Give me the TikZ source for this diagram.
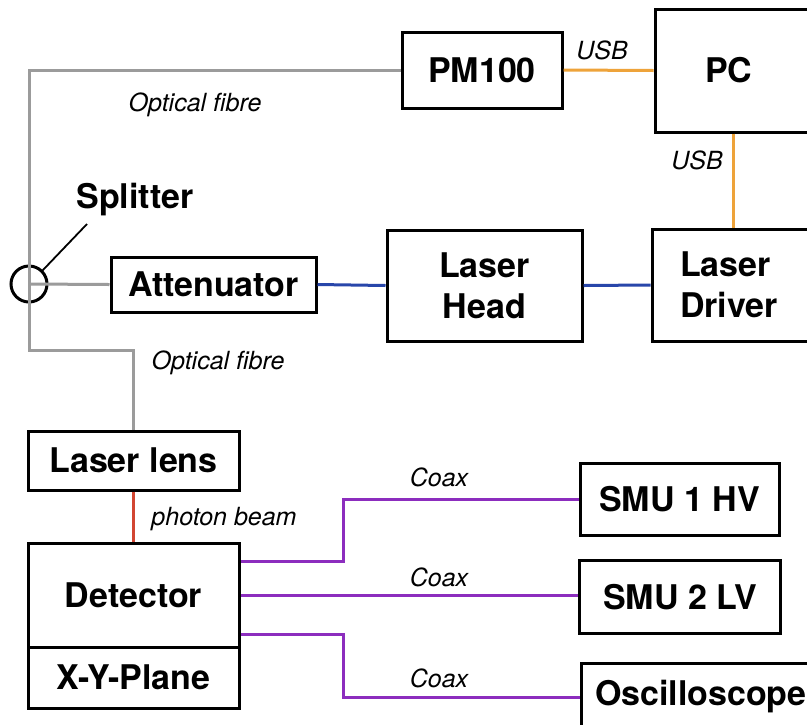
\documentclass[tikz,border=0pt]{standalone}
\usepackage{fontspec}
\setmainfont{TeX Gyre Heros}
\usepackage{tikz}
\usetikzlibrary{positioning,calc}
\definecolor{fibregray}{RGB}{155,155,155}
\definecolor{usborange}{RGB}{238,163,58}
\definecolor{driveblue}{RGB}{40,70,170}
\definecolor{beamred}{RGB}{210,70,50}
\definecolor{coaxpurple}{RGB}{140,45,190}
\tikzset{%
  box/.style={draw,line width=1.5pt,align=center,inner sep=4pt,font=\fontsize{17}{20.5}\selectfont\bfseries},
  tag/.style={inner sep=1pt,font=\fontsize{12.5}{15}\selectfont\itshape},
  cable/.style={line width=1.5pt}%
}

\begin{document}
\begin{tikzpicture}[
    x=0.5pt, y=-0.5pt,
    fibre/.style={cable, draw=fibregray},
    usb/.style={cable, draw=usborange},
    drive/.style={cable, draw=driveblue},
    beam/.style={cable, draw=beamred},
    coax/.style={cable, draw=coaxpurple},
    split/.style={draw,circle,line width=1.5pt,minimum size=18pt,inner sep=0pt},
    cutbox/.style={box, align=left}
]
\useasboundingbox (0,0) rectangle (807,724);
\fill[white] (0,0) rectangle (807,724);
\clip (0,0) rectangle (807,724);

% Readout and control
\node[box, minimum width=80pt, minimum height=38pt] (pm) at (482,70) {PM100};
\node[cutbox, minimum height=61.5pt, inner xsep=25pt, text width=28pt] (pc) at (733,70.5) {PC};
\node[cutbox, minimum height=56pt, inner xsep=14pt, text width=53pt] (drv) at (733,285) {Laser\\Driver};

% Laser path
\node[box, minimum width=97.5pt, minimum height=55.5pt] (head) at (484.5,285.5) {Laser\\Head};
\node[box, minimum width=102.5pt, minimum height=27.5pt] (att) at (213.5,284.5) {Attenuator};
\node[split] (splt) at (29,284) {};
\node[box, draw=none, inner sep=0pt] (splitlbl) at (135,200) {Splitter};
\coordinate (splittip) at (87,224);

% Device under test
% (plane box shares its top edge with the detector box)
\node[box, minimum width=105.5pt, minimum height=29.5pt] (lens) at (133.5,460.5) {Laser lens};
\node[box, minimum width=105.5pt, minimum height=52pt] (det) at (133.5,595) {Detector};
\node[box, minimum width=105.5pt, minimum height=30.5pt, below=-1.5pt of det] (xy) {X-Y-Plane};

% Instruments
\node[box, minimum width=99.5pt, minimum height=36pt] (smu1) at (679.5,499) {SMU 1 HV};
\node[box, minimum width=100.5pt, minimum height=36.5pt] (smu2) at (680,597) {SMU 2 LV};
\node[cutbox, minimum height=34pt, inner xsep=7pt, text width=110.5pt] (osc) at (705.5,697) {Oscilloscope};

% Connections
\coordinate (fbend) at (29,350);
\coordinate (jog) at (343,0);
\draw[fibre] (splt.center) |- (pm.west);
\draw[fibre] (splt.center) -- (att.west);
\draw[fibre] (splt.center) -- (fbend) -| (lens.north);
\draw[line width=0.9pt] (splt.45) -- (splittip);
\draw[usb] (pm.east) -- (pc.west);
\draw[usb] (pc.south) -- (drv.north);
\draw[drive] (att.east) -- (head.west);
\draw[drive] (head.east) -- (drv.west);
\draw[beam] (lens.south) -- (det.north);
\draw[coax] ([yshift=17pt]det.east) -| (jog |- smu1.west) -- (smu1.west);
\draw[coax] (det.east) -- (det.east -| smu2.west);
\draw[coax] ([yshift=-19.5pt]det.east) -| (jog |- osc.west) -- (osc.west);

% Cable labels
\node[tag] (fibre1) at (195,105) {Optical fibre};
\node[tag] (fibre2) at (218,363) {Optical fibre};
\node[tag] (usb1) at (602,50) {USB};
\node[tag] (usb2) at (697,160) {USB};
\node[tag] (beamlbl) at (224,519) {photon beam};
\node[tag] (coax1) at (439,477) {Coax};
\node[tag] (coax2) at (439,577) {Coax};
\node[tag] (coax3) at (439,678) {Coax};

\end{tikzpicture}
\end{document}
